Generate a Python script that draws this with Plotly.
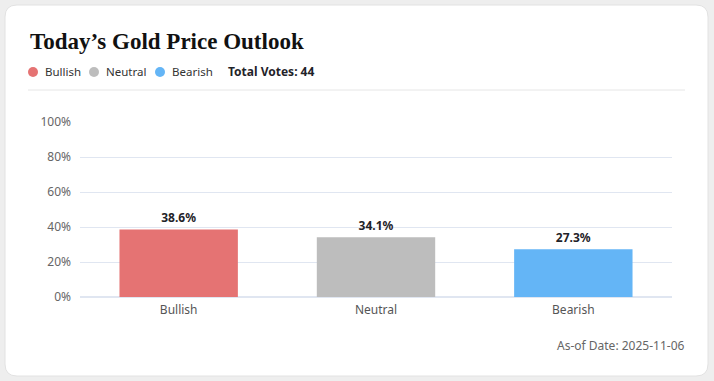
import plotly.graph_objects as go

categories = ["Bullish", "Neutral", "Bearish"]
percentages = [38.6, 34.1, 27.3]
colors = ["#e57373", "#bdbdbd", "#64b5f6"]
label_texts = ["38.6%", "34.1%", "27.3%"]
y_ticks = [0, 20, 40, 60, 80, 100]
total_votes = 44
as_of_date = "2025-11-06"
title_text = "Today\u2019s Gold Price Outlook"

W, H = 714, 381
ML, MR, MT, MB = 80, 42, 122, 84
PW, PH = W - ML - MR, H - MT - MB


def px(x):
    return (x - ML) / PW


def py(y):
    return (H - MB - y) / PH


fig = go.Figure()
fig.add_trace(go.Bar(
    x=categories, y=percentages,
    marker=dict(color=colors, line=dict(width=0)),
    text=label_texts, textposition="outside",
    textfont=dict(family="Noto Sans", size=12, color="#1f2329", weight="bold"),
    cliponaxis=False, width=0.6, hoverinfo="skip",
))

# card with rounded corners
x0, x1, y0, y1, r = 5, 708, 5, 376, 12
path = (f"M {px(x0 + r)} {py(y0)} L {px(x1 - r)} {py(y0)} "
        f"Q {px(x1)} {py(y0)} {px(x1)} {py(y0 + r)} L {px(x1)} {py(y1 - r)} "
        f"Q {px(x1)} {py(y1)} {px(x1 - r)} {py(y1)} L {px(x0 + r)} {py(y1)} "
        f"Q {px(x0)} {py(y1)} {px(x0)} {py(y1 - r)} L {px(x0)} {py(y0 + r)} "
        f"Q {px(x0)} {py(y0)} {px(x0 + r)} {py(y0)} Z")
shapes = [dict(type="path", xref="paper", yref="paper", path=path,
               fillcolor="white", line=dict(color="#e2e2e2", width=1), layer="below")]
# separator
shapes.append(dict(type="line", xref="paper", yref="paper", x0=px(28), x1=px(685),
                   y0=py(90), y1=py(90), line=dict(color="#e6e6e6", width=1)))

annotations = [dict(text=f"<b>{title_text}</b>", xref="paper", yref="paper", x=px(28), y=py(41),
                    xanchor="left", yanchor="middle", showarrow=False,
                    font=dict(family="Liberation Serif", size=23, color="#111111"))]

legend_x = [33, 94, 160]
for cx, cat, col in zip(legend_x, categories, colors):
    shapes.append(dict(type="circle", xref="paper", yref="paper",
                       x0=px(cx - 5), x1=px(cx + 5), y0=py(67), y1=py(77),
                       fillcolor=col, line=dict(width=0)))
    annotations.append(dict(text=cat, xref="paper", yref="paper", x=px(cx + 10), y=py(72),
                            xanchor="left", yanchor="middle", showarrow=False,
                            font=dict(family="Noto Sans", size=11.5, color="#333333")))
annotations.append(dict(text=f"<b>Total Votes: {total_votes}</b>", xref="paper", yref="paper",
                        x=px(226), y=py(72), xanchor="left", yanchor="middle", showarrow=False,
                        font=dict(family="Noto Sans", size=12, color="#1f2329")))
annotations.append(dict(text=f"As-of Date: {as_of_date}", xref="paper", yref="paper",
                        x=px(686), y=py(345), xanchor="right", yanchor="middle", showarrow=False,
                        font=dict(family="Noto Sans", size=12, color="#666666")))

fig.update_layout(
    width=W, height=H, margin=dict(l=ML, r=MR, t=MT, b=MB),
    paper_bgcolor="#eeeeee", plot_bgcolor="rgba(0,0,0,0)",
    shapes=shapes, annotations=annotations, showlegend=False,
    bargap=0.4,
    xaxis=dict(tickfont=dict(family="Noto Sans", size=12, color="#555555"),
               showgrid=False, showline=False, ticks="", fixedrange=True,
               ticklabelstandoff=4),
    yaxis=dict(range=[0, 100], tickvals=y_ticks, ticktext=[f"{v}%" for v in y_ticks],
               tickfont=dict(family="Noto Sans", size=12, color="#666666"),
               gridcolor="#e0e6f1", zeroline=True, zerolinecolor="#e0e6f1",
               showline=False, ticks="", ticklabelstandoff=8, fixedrange=True),
)

fig.write_html(
    "out.html",
    config={"displayModeBar": False},
    post_script="document.body.style.margin='0';document.body.style.background='#eeeeee';document.body.style.overflow='hidden';",
)
